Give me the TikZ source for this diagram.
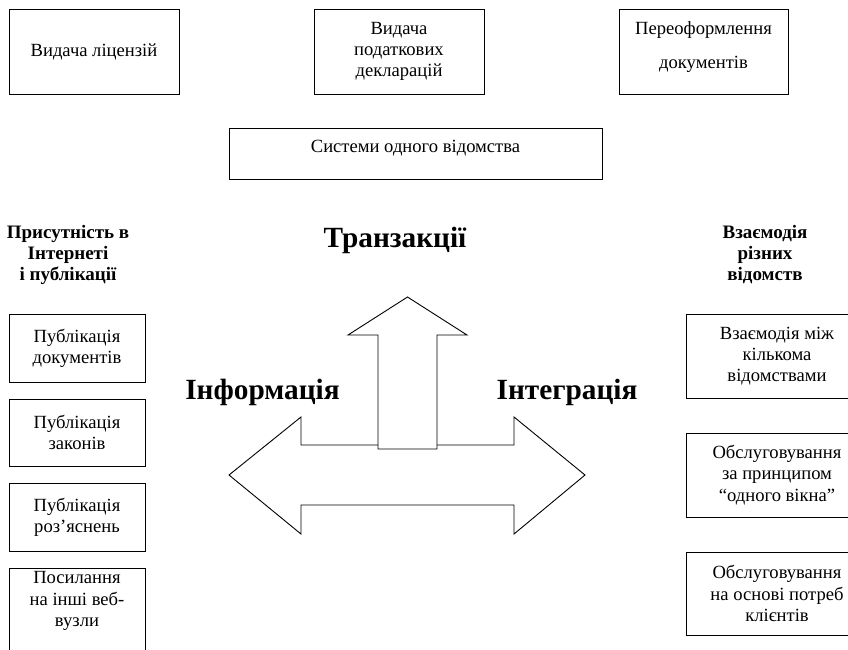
\documentclass[tikz,border=0pt]{standalone}
\usepackage{fontspec}
\setmainfont{Liberation Serif}
\begin{document}
\begin{tikzpicture}[x=1pt,y=-1pt,
  box/.style={draw, line width=0.9pt, align=center, inner sep=0pt,
    font=\fontsize{18.6}{21.3}\selectfont},
  txt/.style={align=center, inner sep=0pt, font=\fontsize{18.6}{21.3}\selectfont},
  head/.style={align=center, inner sep=0pt, font=\fontsize{19}{21}\selectfont\bfseries},
  big/.style={inner sep=0pt, font=\fontsize{29.3}{34}\selectfont\bfseries},
  arrowshape/.style={draw, line width=0.9pt, fill=white, line join=miter}]
\useasboundingbox (0,0) rectangle (848,649);
\clip (0,0) rectangle (848,649);

% top row: services of one agency
\node[box, minimum width=170pt, minimum height=85pt] (lic) at (94,51.5) {Видача ліцензій};
\node[box, minimum width=170pt, minimum height=85pt] (tax) at (399,51.5) {Видача\\податкових\\декларацій};
\node[box, minimum width=169pt, minimum height=85pt] (redoc) at (703.5,51.5) {};
\node[txt] (redoct) at (703.5,47) {Переоформлення\\[12pt]документів};

\node[box, minimum width=373pt, minimum height=51pt] (sys) at (415.5,153.5) {};
\node[txt] (syst) at (415.5,148) {Системи одного відомства};

% column headings
\node[head] (lefthead) at (68,255) {Присутність в\\Інтернеті\\і публікації};
\node[head] (righthead) at (765,255) {Взаємодія\\різних\\відомств};

% left column
\node[box, minimum width=136pt, minimum height=68pt] (pd) at (77,348) {Публікація\\документів};
\node[box, minimum width=136pt, minimum height=67pt] (pz) at (77,432.5) {Публікація\\законів};
\node[box, minimum width=136pt, minimum height=68pt] (pr) at (77,517) {Публікація\\роз’яснень};
\node[box, minimum width=136pt, minimum height=92pt] (pl) at (77,614) {};
\node[txt] (plt) at (77,601) {Посилання\\на інші веб-\\вузли};

% right column
\node[box, minimum width=182pt, minimum height=84pt] (vz) at (777,356) {Взаємодія між\\кількома\\відомствами};
\node[box, minimum width=182pt, minimum height=84pt] (ov) at (777,475) {Обслуговування\\за принципом\\“одного вікна”};
\node[box, minimum width=182pt, minimum height=83pt] (oc) at (777,593.5) {Обслуговування\\на основі потреб\\клієнтів};

% central arrows
\draw[arrowshape] (229,475) -- (301,417) -- (301,445) -- (514,445) -- (514,417)
  -- (585,475) -- (514,534) -- (514,505) -- (301,505) -- (301,534) -- cycle;
\draw[arrowshape] (407.5,297) -- (467,335) -- (437,335) -- (437,449)
  -- (378,449) -- (378,335) -- (348,335) -- cycle;

\node[big] (tr) at (395,240) {Транзакції};
\node[big] (inf) at (262.5,392) {Інформація};
\node[big] (integ) at (567,392) {Інтеграція};
\end{tikzpicture}
\end{document}
